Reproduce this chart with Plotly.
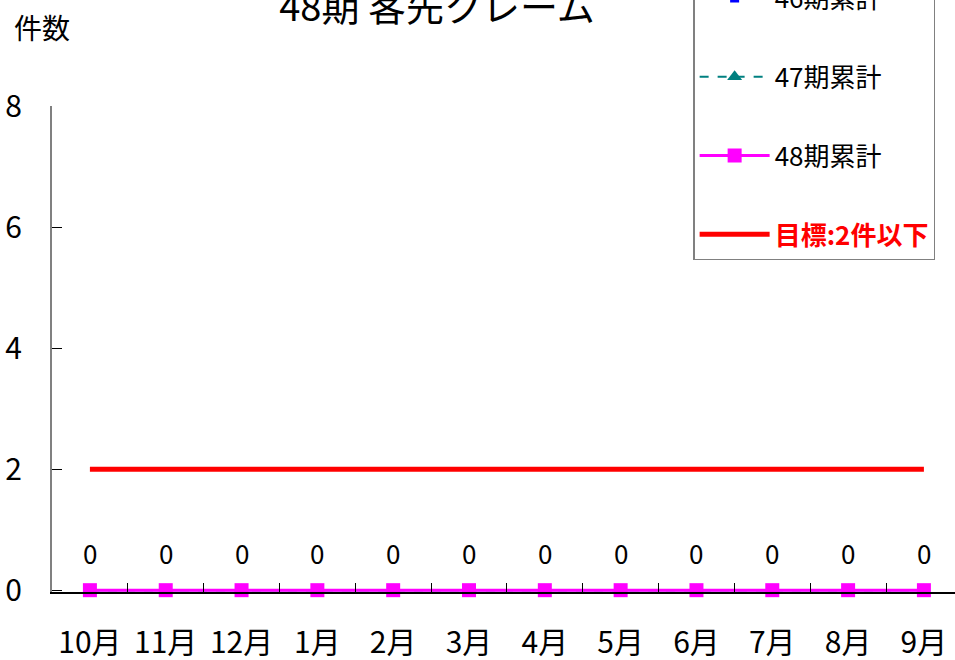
import plotly.graph_objects as go

months = ["10月", "11月", "12月", "1月", "2月", "3月", "4月", "5月", "6月", "7月", "8月", "9月"]
s46 = [0, 0, 0, 0, 0, 0, 0, 0, 0, 0, 0, 0]
s47 = [0, 0, 0, 0, 0, 0, 0, 0, 0, 0, 0, 0]
s48 = [0, 0, 0, 0, 0, 0, 0, 0, 0, 0, 0, 0]
target = [2, 2, 2, 2, 2, 2, 2, 2, 2, 2, 2, 2]
y_ticks = [0, 2, 4, 6, 8]

FONT = "Noto Sans CJK JP"

fig = go.Figure()
fig.add_trace(go.Scatter(
    x=months, y=s46, name="46期累計", mode="lines+markers",
    line=dict(color="#0000FF", width=2),
    marker=dict(symbol="square", size=9, color="#0000FF"),
    legendgroup="a", cliponaxis=False,
))
fig.add_trace(go.Scatter(
    x=months, y=s47, name="47期累計", mode="lines+markers",
    line=dict(color="#008080", width=2, dash="dash"),
    marker=dict(symbol="triangle-up", size=13, color="#008080"),
    legendgroup="b", cliponaxis=False,
))
fig.add_trace(go.Scatter(
    x=months, y=s48, name="48期累計", mode="lines+markers",
    line=dict(color="#FF00FF", width=3),
    marker=dict(symbol="square", size=14, color="#FF00FF"),
    legendgroup="c", cliponaxis=False,
))
fig.add_trace(go.Scatter(
    x=months, y=target, name='<span style="color:#FF0000"><b>目標:2件以下</b></span>',
    mode="lines",
    line=dict(color="#FF0000", width=5),
    legendgroup="d", cliponaxis=False,
))

annotations = []
for m, v in zip(months, s48):
    annotations.append(dict(
        x=m, y=v, xref="x", yref="y", text=str(v), showarrow=False,
        yshift=38, font=dict(size=26, color="#000000", family=FONT),
    ))
annotations.append(dict(
    x=0, y=1.1626, xref="paper", yref="paper", text="件数", showarrow=False,
    xanchor="center", yanchor="middle", xshift=-10,
    font=dict(size=28, color="#000000", family=FONT),
))

fig.update_layout(
    width=955, height=660,
    margin=dict(l=52, r=0, t=106, b=68, autoexpand=False),
    paper_bgcolor="white", plot_bgcolor="white",
    font=dict(family=FONT, color="#000000"),
    title=dict(text="48期 客先クレーム", x=0.4576, xanchor="center",
               y=0.988, yanchor="middle", font=dict(size=38, family=FONT)),
    showlegend=True,
    legend=dict(
        x=0.71, y=0.683, xanchor="left", yanchor="bottom",
        bgcolor="white", bordercolor="#808080", borderwidth=1.5,
        font=dict(size=26, family=FONT, color="#000000"),
        traceorder="grouped", tracegroupgap=42, itemwidth=70,
    ),
    annotations=annotations,
    xaxis=dict(
        type="category", range=[-0.5, 11.41],
        showline=True, linecolor="#000000", linewidth=1.5,
        ticks="inside", tickson="boundaries", ticklen=9, tickcolor="#000000",
        showgrid=False, zeroline=False,
        tickfont=dict(size=30, family=FONT), ticklabelstandoff=23,
    ),
    yaxis=dict(
        range=[-0.03, 8], tickvals=y_ticks,
        showline=True, linecolor="#808080", linewidth=2,
        ticks="inside", ticklen=10, tickcolor="#000000",
        showgrid=False, zeroline=False,
        tickfont=dict(size=30, family=FONT), ticklabelstandoff=22,
    ),
)

fig.write_html("out.html", config={"displayModeBar": False},
               post_script="document.body.style.margin='0';")
